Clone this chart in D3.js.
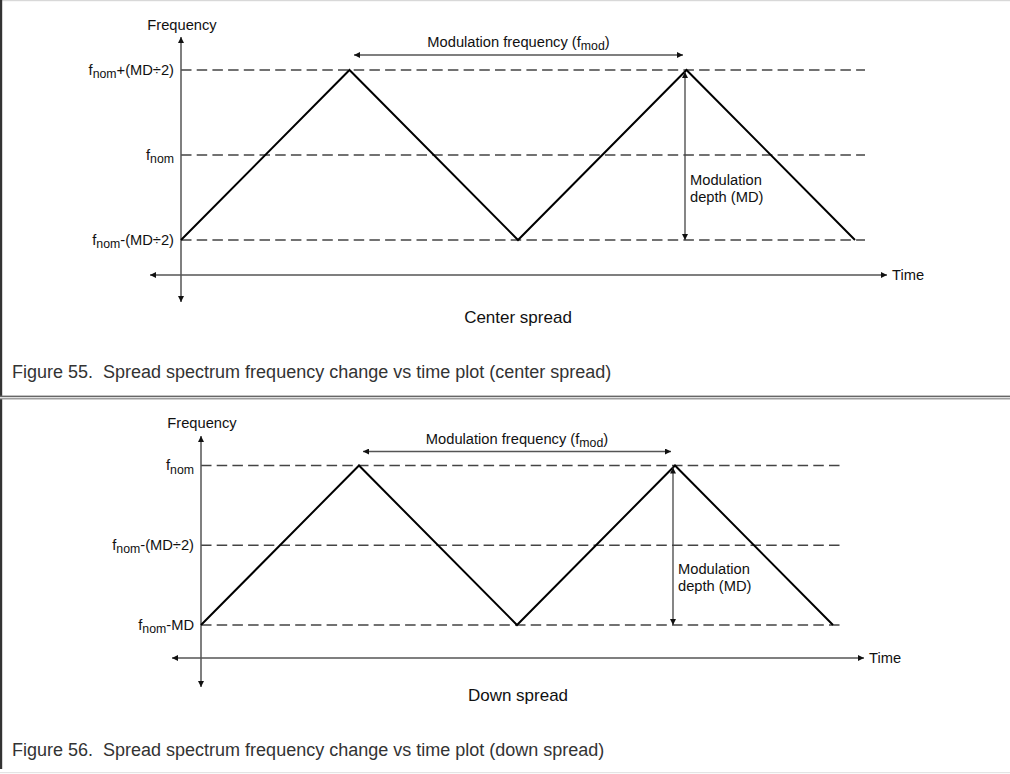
<!DOCTYPE html>
<html><head><meta charset="utf-8">
<script src="https://cdn.jsdelivr.net/npm/d3@7"></script>
<style>body{margin:0;background:#fff}svg{display:block}text{font-family:"Liberation Sans",Arial,sans-serif;fill:#111;white-space:pre}</style>
</head><body><div id="c"></div>
<script>
// ---- data ----
const waveTime = [0, 0.5, 1, 1.5, 2];
const centerWave = [-0.5, 0.5, -0.5, 0.5, -0.5];
const downWave = [-1, 0, -1, 0, -1];
const centerLevels = [0.5, 0, -0.5];
const downLevels = [0, -0.5, -1];
const centerLabels = [["f","nom","+(MD÷2)"],["f","nom",""],["f","nom","-(MD÷2)"]];
const downLabels = [["f","nom",""],["f","nom","-(MD÷2)"],["f","nom","-MD"]];
const captions = ["Figure 55.  Spread spectrum frequency change vs time plot (center spread)",
                  "Figure 56.  Spread spectrum frequency change vs time plot (down spread)"];
const subtitles = ["Center spread","Down spread"];

const W=1010,H=774;
const FS=14.7, SUB=12.3;
const svg=d3.select("#c").append("svg").attr("width",W).attr("height",H);
const defs=svg.append("defs");
defs.append("marker").attr("id","ah").attr("viewBox","0 0 10 10").attr("refX",10).attr("refY",5)
  .attr("markerWidth",8).attr("markerHeight",6).attr("markerUnits","userSpaceOnUse").attr("orient","auto-start-reverse")
  .append("path").attr("d","M0,0L10,5L0,10z").attr("fill","#111");

// frame
svg.append("rect").attr("x",0).attr("y",0).attr("width",W).attr("height",1.2).attr("fill","#d8d8d8");
svg.append("rect").attr("x",0).attr("y",772).attr("width",W).attr("height",1.2).attr("fill","#e4e4e4");
svg.append("rect").attr("x",0).attr("y",0).attr("width",2.2).attr("height",396).attr("fill","#333");
svg.append("rect").attr("x",0).attr("y",399).attr("width",2.2).attr("height",370).attr("fill","#333");
svg.append("rect").attr("x",0).attr("y",395.6).attr("width",W).attr("height",1.6).attr("fill","#666");
svg.append("rect").attr("x",0).attr("y",398.2).attr("width",W).attr("height",1.2).attr("fill","#888");

const panels=[
 {wave:centerWave,levels:centerLevels,labels:centerLabels,x0:181,x1:855,yTop:70,yBot:240,dashEnd:865,
  axisTop:37,axisBot:302,timeY:275,timeL:150,timeR:887,freqY:30,modY:55,modL:354,modR:683,modTextY:47,mdX:685,
  mdTextX:691,mdTextY:185,subY:323,capY:378,domain:[-0.5,0.5]},
 {wave:downWave,levels:downLevels,labels:downLabels,x0:201,x1:833,yTop:465.5,yBot:625,dashEnd:840,
  axisTop:436,axisBot:687,timeY:658,timeL:172,timeR:864,freqY:428,modY:451.5,modL:363,modR:671,modTextY:444,mdX:673,
  mdTextX:678,mdTextY:574,subY:701,capY:756,domain:[-1,0]}
];

panels.forEach((p,i)=>{
  const g=svg.append("g");
  const x=d3.scaleLinear().domain([0,2]).range([p.x0,p.x1]);
  const y=d3.scaleLinear().domain(p.domain).range([p.yBot,p.yTop]);
  g.selectAll(".lvl").data(p.levels).join("line")
    .attr("x1",p.x0).attr("x2",p.dashEnd).attr("y1",d=>y(d)).attr("y2",d=>y(d))
    .attr("stroke","#444").attr("stroke-width",1.3).attr("stroke-dasharray","10.5,5.2");
  const lab=g.selectAll(".lab").data(p.levels.map((d,k)=>[d,p.labels[k]])).join("text")
    .attr("x",p.x0-7).attr("y",d=>y(d[0])+4.5).attr("text-anchor","end").attr("font-size",FS);
  lab.append("tspan").text(d=>d[1][0]);
  lab.append("tspan").attr("dy",3.5).attr("font-size",SUB).text(d=>d[1][1]);
  lab.append("tspan").attr("dy",-3.5).text(d=>d[1][2]);
  g.append("line").attr("x1",p.x0).attr("x2",p.x0).attr("y1",p.axisBot).attr("y2",p.axisTop)
    .attr("stroke","#555").attr("stroke-width",1.5).attr("marker-end","url(#ah)").attr("marker-start","url(#ah)");
  g.append("text").attr("x",p.x0+1).attr("y",p.freqY).attr("text-anchor","middle").attr("font-size",FS).text("Frequency");
  g.append("line").attr("x1",p.timeL).attr("x2",p.timeR).attr("y1",p.timeY).attr("y2",p.timeY)
    .attr("stroke","#555").attr("stroke-width",1.5).attr("marker-end","url(#ah)").attr("marker-start","url(#ah)");
  g.append("text").attr("x",p.timeR+5).attr("y",p.timeY+5).attr("font-size",FS).text("Time");
  const line=d3.line().x((d,k)=>x(waveTime[k])).y(d=>y(d));
  g.append("path").attr("d",line(p.wave)).attr("fill","none").attr("stroke","#000").attr("stroke-width",2).attr("stroke-linejoin","miter");
  g.append("line").attr("x1",p.modL).attr("x2",p.modR).attr("y1",p.modY).attr("y2",p.modY)
    .attr("stroke","#555").attr("stroke-width",1.5).attr("marker-end","url(#ah)").attr("marker-start","url(#ah)");
  const mt=g.append("text").attr("x",(p.modL+p.modR)/2).attr("y",p.modTextY).attr("text-anchor","middle").attr("font-size",FS);
  mt.append("tspan").text("Modulation frequency (f");
  mt.append("tspan").attr("dy",3).attr("font-size",SUB).text("mod");
  mt.append("tspan").attr("dy",-3).text(")");
  g.append("line").attr("x1",p.mdX).attr("x2",p.mdX).attr("y1",p.yTop+2).attr("y2",p.yBot)
    .attr("stroke","#444").attr("stroke-width",1.3).attr("marker-end","url(#ah)").attr("marker-start","url(#ah)");
  g.append("text").attr("x",p.mdX+5).attr("y",p.mdTextY).attr("font-size",FS).text("Modulation");
  g.append("text").attr("x",p.mdX+5).attr("y",p.mdTextY+17).attr("font-size",FS).text("depth (MD)");
  g.append("text").attr("x",518).attr("y",p.subY).attr("text-anchor","middle").attr("font-size",17).text(subtitles[i]);
  g.append("text").attr("x",12).attr("y",p.capY).attr("font-size",18).style("fill","#333").text(captions[i]);
});
</script></body></html>
